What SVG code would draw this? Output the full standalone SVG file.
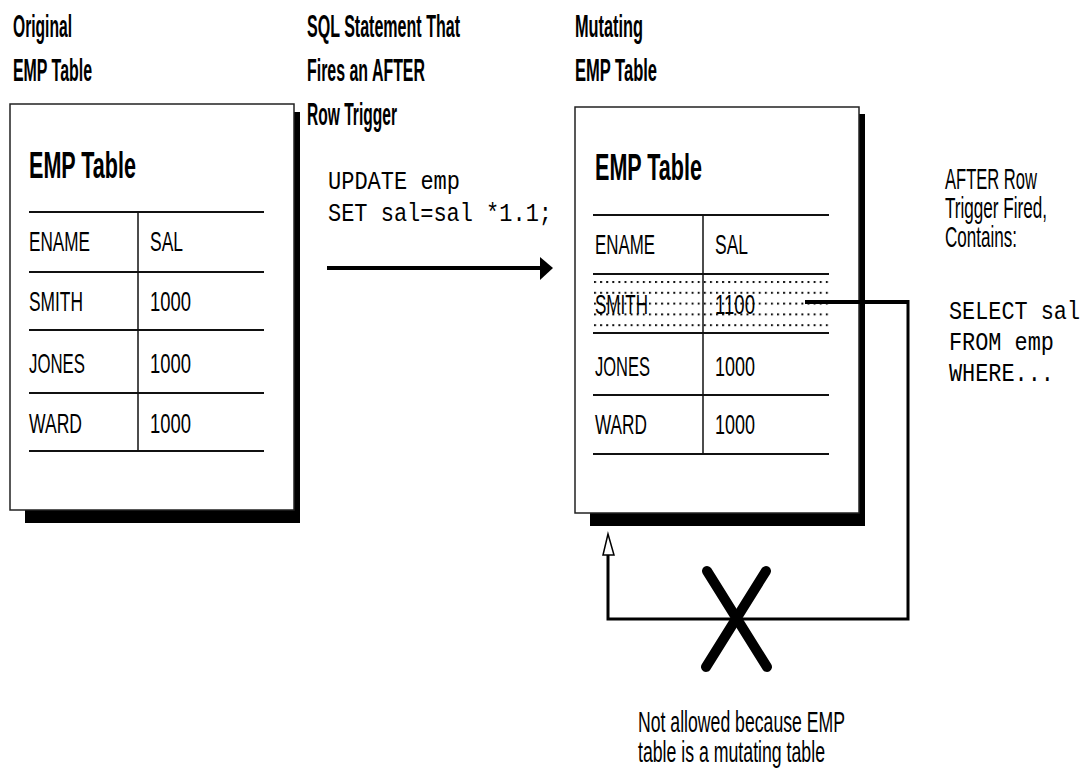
<svg xmlns="http://www.w3.org/2000/svg" width="1083" height="771" viewBox="0 0 1083 771">
<style>
.hdr{font-family:"Liberation Sans",Arial,sans-serif;font-weight:bold;font-size:31px;fill:#000}
.ttl{font-family:"Liberation Sans",Arial,sans-serif;font-weight:bold;font-size:36px;fill:#000}
.cell{font-family:"Liberation Sans",Arial,sans-serif;font-size:28px;fill:#000}
.lbl{font-family:"Liberation Sans",Arial,sans-serif;font-size:29px;fill:#000}
.mono{font-family:"Liberation Mono","Courier New",monospace;font-size:25px;fill:#000}
.box{fill:#fff;stroke:#222;stroke-width:1.5}
.shadow{fill:#000}
.rule{stroke:#111;stroke-width:2;fill:none}
.div{stroke:#111;stroke-width:1.5;fill:none}
.conn{stroke:#000;fill:none;stroke-width:3}
</style>
<defs>
<pattern id="dots" patternUnits="userSpaceOnUse" x="594" y="281" width="6.1" height="10.8">
<rect x="0" y="0" width="2" height="2" fill="#111"/>
</pattern>
</defs>

<g id="headers">
<text class="hdr" x="13" y="37" textLength="59" lengthAdjust="spacingAndGlyphs">Original</text>
<text class="hdr" x="13" y="81" textLength="79" lengthAdjust="spacingAndGlyphs">EMP Table</text>
<text class="hdr" x="307" y="37" textLength="153" lengthAdjust="spacingAndGlyphs">SQL Statement That</text>
<text class="hdr" x="307" y="81" textLength="118" lengthAdjust="spacingAndGlyphs">Fires an AFTER</text>
<text class="hdr" x="307" y="125" textLength="90" lengthAdjust="spacingAndGlyphs">Row Trigger</text>
<text class="hdr" x="575" y="37" textLength="68" lengthAdjust="spacingAndGlyphs">Mutating</text>
<text class="hdr" x="575" y="81" textLength="82" lengthAdjust="spacingAndGlyphs">EMP Table</text>
</g>

<g id="original-table">
<rect class="shadow" x="25" y="112" width="275" height="411"/>
<rect class="box" x="10" y="104" width="284" height="406"/>
<text class="ttl" x="29" y="178" textLength="107" lengthAdjust="spacingAndGlyphs">EMP Table</text>
<line class="rule" x1="29" y1="212" x2="264" y2="212"/>
<line class="rule" x1="29" y1="272" x2="264" y2="272"/>
<line class="rule" x1="29" y1="330" x2="264" y2="330"/>
<line class="rule" x1="29" y1="393" x2="264" y2="393"/>
<line class="rule" x1="29" y1="451" x2="264" y2="451"/>
<line class="div" x1="138" y1="212" x2="138" y2="451"/>
<text class="cell" x="29" y="251" textLength="61" lengthAdjust="spacingAndGlyphs">ENAME</text>
<text class="cell" x="150" y="251" textLength="33" lengthAdjust="spacingAndGlyphs">SAL</text>
<text class="cell" x="29" y="311" textLength="54" lengthAdjust="spacingAndGlyphs">SMITH</text>
<text class="cell" x="150" y="311" textLength="41" lengthAdjust="spacingAndGlyphs">1000</text>
<text class="cell" x="29" y="373" textLength="56" lengthAdjust="spacingAndGlyphs">JONES</text>
<text class="cell" x="150" y="373" textLength="41" lengthAdjust="spacingAndGlyphs">1000</text>
<text class="cell" x="29" y="433" textLength="53" lengthAdjust="spacingAndGlyphs">WARD</text>
<text class="cell" x="150" y="433" textLength="41" lengthAdjust="spacingAndGlyphs">1000</text>
</g>

<g id="sql-statement">
<text class="mono" x="328" y="189" textLength="132" lengthAdjust="spacingAndGlyphs">UPDATE emp</text>
<text class="mono" x="328" y="221" textLength="224" lengthAdjust="spacingAndGlyphs">SET sal=sal *1.1;</text>
</g>

<g id="mutating-table">
<rect class="shadow" x="590" y="114" width="275" height="412"/>
<rect class="box" x="575" y="107" width="284" height="406"/>
<text class="ttl" x="595" y="180" textLength="107" lengthAdjust="spacingAndGlyphs">EMP Table</text>
<rect x="593" y="276" width="236" height="55" fill="url(#dots)"/>
<line class="rule" x1="593" y1="215" x2="829" y2="215"/>
<line class="rule" x1="593" y1="274" x2="829" y2="274"/>
<line class="rule" x1="593" y1="333" x2="829" y2="333"/>
<line class="rule" x1="593" y1="395" x2="829" y2="395"/>
<line class="rule" x1="593" y1="454" x2="829" y2="454"/>
<line class="div" x1="703" y1="215" x2="703" y2="454"/>
<text class="cell" x="595" y="254" textLength="60" lengthAdjust="spacingAndGlyphs">ENAME</text>
<text class="cell" x="715" y="254" textLength="33" lengthAdjust="spacingAndGlyphs">SAL</text>
<text class="cell" x="595" y="314" textLength="53" lengthAdjust="spacingAndGlyphs">SMITH</text>
<text class="cell" x="715" y="314" textLength="40" lengthAdjust="spacingAndGlyphs">1100</text>
<text class="cell" x="595" y="376" textLength="55" lengthAdjust="spacingAndGlyphs">JONES</text>
<text class="cell" x="715" y="376" textLength="40" lengthAdjust="spacingAndGlyphs">1000</text>
<text class="cell" x="595" y="434" textLength="52" lengthAdjust="spacingAndGlyphs">WARD</text>
<text class="cell" x="715" y="434" textLength="40" lengthAdjust="spacingAndGlyphs">1000</text>
</g>

<g id="trigger-note">
<text class="lbl" x="945" y="189" textLength="92" lengthAdjust="spacingAndGlyphs">AFTER Row</text>
<text class="lbl" x="945" y="218" textLength="102" lengthAdjust="spacingAndGlyphs">Trigger Fired,</text>
<text class="lbl" x="945" y="247" textLength="72" lengthAdjust="spacingAndGlyphs">Contains:</text>
<text class="mono" x="949" y="319" textLength="131" lengthAdjust="spacingAndGlyphs">SELECT sal</text>
<text class="mono" x="949" y="350" textLength="105" lengthAdjust="spacingAndGlyphs">FROM emp</text>
<text class="mono" x="949" y="381" textLength="105" lengthAdjust="spacingAndGlyphs">WHERE...</text>
</g>

<g id="not-allowed-note">
<text class="lbl" x="638" y="732" textLength="207" lengthAdjust="spacingAndGlyphs">Not allowed because EMP</text>
<text class="lbl" x="638" y="762" textLength="187" lengthAdjust="spacingAndGlyphs">table is a mutating table</text>
</g>

<g id="connectors">
<line x1="327" y1="268" x2="541" y2="268" stroke="#000" stroke-width="4"/>
<polygon points="540,257 553,268 540,280" fill="#000"/>
<line x1="805" y1="302" x2="908" y2="302" stroke="#000" stroke-width="4"/>
<polyline class="conn" points="908,300 908,619 608,619 608,555"/>
<polygon points="608,534 603,555 614,555" fill="#fff" stroke="#000" stroke-width="1.5"/>
<g stroke="#000" stroke-width="10" stroke-linecap="round">
<line x1="707" y1="571" x2="767" y2="667"/>
<line x1="766" y1="571" x2="706" y2="667"/>
</g>
</g>
</svg>
